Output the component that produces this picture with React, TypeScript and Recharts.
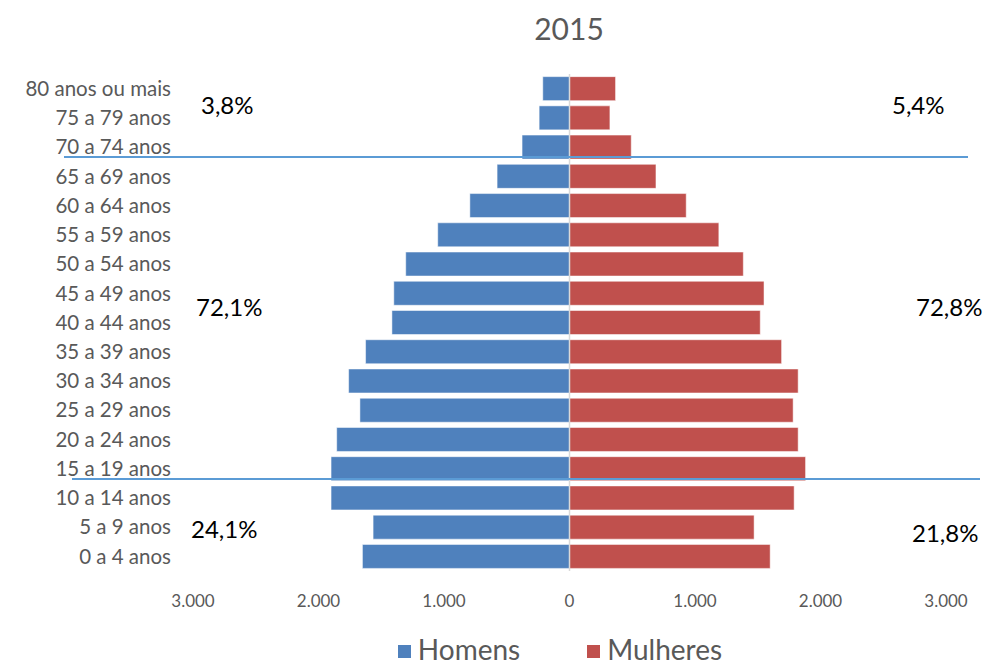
import React from "react";
import {
  BarChart,
  Bar,
  XAxis,
  YAxis,
  Legend,
  ReferenceLine,
} from "recharts";

// faixas etárias, de cima para baixo
const ages = [
  "80 anos ou mais",
  "75 a 79 anos",
  "70 a 74 anos",
  "65 a 69 anos",
  "60 a 64 anos",
  "55 a 59 anos",
  "50 a 54 anos",
  "45 a 49 anos",
  "40 a 44 anos",
  "35 a 39 anos",
  "30 a 34 anos",
  "25 a 29 anos",
  "20 a 24 anos",
  "15 a 19 anos",
  "10 a 14 anos",
  "5 a 9 anos",
  "0 a 4 anos",
];

// população em milhares
const homens = [213, 242, 378, 577, 794, 1050, 1305, 1400, 1415, 1625, 1760, 1670, 1855, 1900, 1900, 1565, 1650];
const mulheres = [367, 322, 492, 689, 930, 1190, 1385, 1550, 1520, 1690, 1822, 1782, 1822, 1881, 1790, 1471, 1599];

const xTicks = [-3000, -2000, -1000, 0, 1000, 2000, 3000];

// anotações de participação por grupo (jovens / adultos / idosos)
const pctLabels = [
  { text: "3,8%", left: 201, top: 105 },
  { text: "5,4%", left: 892, top: 105 },
  { text: "72,1%", left: 196, top: 307 },
  { text: "72,8%", left: 916, top: 307 },
  { text: "24,1%", left: 191, top: 529 },
  { text: "21,8%", left: 912, top: 533 },
];

const BLUE = "#4f81bd";
const RED = "#c0504d";
const GREY = "#595959";
const FONT = "Lato, 'Open Sans', sans-serif";

const data = ages.map((age, i) => ({
  age,
  homens: -homens[i],
  mulheres: mulheres[i],
}));

const fmtThousand = (v: number) => {
  const n = Math.abs(v);
  if (n === 0) return "0";
  return String(n).replace(/\B(?=(\d{3})+(?!\d))/g, ".");
};

const LegendBox = ({ payload }: { payload?: any[] }) => (
  <div style={{ display: "flex", justifyContent: "center", gap: 67, fontFamily: FONT, fontSize: 28, lineHeight: "32px", color: GREY, paddingLeft: 133 }}>
    {(payload || []).map((p) => (
      <div key={p.value} style={{ display: "flex", alignItems: "center", gap: 7 }}>
        <span style={{ width: 13, height: 13, background: p.color, display: "inline-block", marginTop: 5 }} />
        <span>{p.value}</span>
      </div>
    ))}
  </div>
);

export default function App() {
  return (
    <div style={{ position: "absolute", left: 0, top: 0, width: 987, height: 668, background: "#fff", overflow: "hidden", fontFamily: FONT }}>
      <div style={{ position: "absolute", left: 0, width: 1138, top: 10, textAlign: "center", fontSize: 30, color: GREY }}>
        2015
      </div>
      <BarChart
        width={987}
        height={668}
        data={data}
        layout="vertical"
        stackOffset="sign"
        barCategoryGap="9%"
        margin={{ top: 74, right: 41, bottom: 37, left: 0 }}
      >
        <XAxis
          type="number"
          domain={[-3000, 3000]}
          ticks={xTicks}
          tickFormatter={fmtThousand}
          axisLine={false}
          tickLine={false}
          tickSize={0}
          tickMargin={24}
          height={60}
          tick={{ fontSize: 17, fill: GREY, fontFamily: FONT }}
        />
        <YAxis
          type="category"
          dataKey="age"
          width={193}
          axisLine={false}
          tickLine={false}
          tickSize={0}
          tickMargin={22}
          interval={0}
          tick={{ fontSize: 20.5, fill: GREY, fontFamily: FONT }}
        />
        <Bar dataKey="homens" name="Homens" stackId="p" fill={BLUE} stroke="#ffffff" strokeOpacity={0.5} isAnimationActive={false} />
        <Bar dataKey="mulheres" name="Mulheres" stackId="p" fill={RED} stroke="#ffffff" strokeOpacity={0.5} isAnimationActive={false} />
        <ReferenceLine x={0} stroke="#d9d9d9" strokeWidth={1.5} />
        <Legend
          layout="horizontal"
          verticalAlign="middle"
          align="center"
          wrapperStyle={{ top: 633, left: 0, width: 987 }}
          content={<LegendBox />}
        />
      </BarChart>
      {/* linhas divisórias dos grupos etários */}
      <div style={{ position: "absolute", left: 64, top: 156, width: 904, height: 1.5, background: "#5b9bd5" }} />
      <div style={{ position: "absolute", left: 72, top: 478, width: 908, height: 1.5, background: "#5b9bd5" }} />
      {pctLabels.map((l) => (
        <div
          key={l.text}
          style={{ position: "absolute", left: l.left, top: l.top - 15, fontSize: 24, color: "#000", lineHeight: "30px" }}
        >
          {l.text}
        </div>
      ))}
    </div>
  );
}
